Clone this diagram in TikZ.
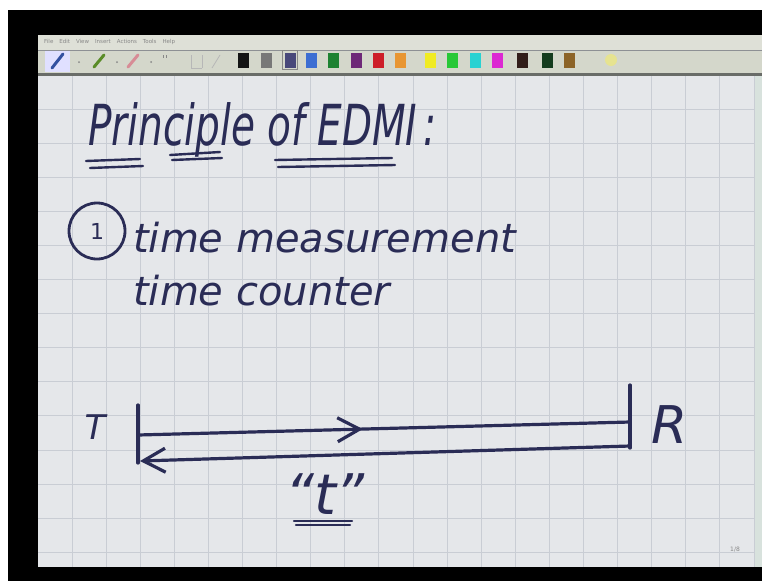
\documentclass[tikz,border=0pt]{standalone}
\usepackage{fontspec}
\setmainfont{DejaVu Sans}
\usepackage{graphicx}
\usepackage{tikz}
\usetikzlibrary{arrows.meta,positioning,calc,decorations.markings}
\definecolor{inkblue}{RGB}{42,44,86}
\definecolor{paper}{RGB}{229,231,234}
\definecolor{gridgray}{RGB}{201,205,212}
\definecolor{menubar}{RGB}{222,224,215}
\definecolor{toolbar}{RGB}{212,215,203}
\definecolor{barline}{RGB}{105,108,104}
\definecolor{faintgray}{RGB}{135,135,135}
\definecolor{scrollstrip}{RGB}{216,226,221}
\definecolor{swblack}{RGB}{20,20,20}
\definecolor{swgray}{RGB}{120,120,120}
\definecolor{swslate}{RGB}{72,72,122}
\definecolor{swblue}{RGB}{60,110,210}
\definecolor{swgreen}{RGB}{30,130,50}
\definecolor{swpurple}{RGB}{110,40,120}
\definecolor{swred}{RGB}{205,30,40}
\definecolor{sworange}{RGB}{232,150,50}
\definecolor{swyellow}{RGB}{240,235,35}
\definecolor{swlime}{RGB}{40,200,55}
\definecolor{swcyan}{RGB}{40,210,210}
\definecolor{swmagenta}{RGB}{220,40,210}
\definecolor{swdkbrown}{RGB}{50,30,25}
\definecolor{swdkgreen}{RGB}{20,60,30}
\definecolor{swbrown}{RGB}{140,100,40}
\definecolor{penblue}{RGB}{50,80,160}
\definecolor{pengreen}{RGB}{90,140,40}
\definecolor{penpink}{RGB}{215,140,150}
\tikzset{
  ink/.style={draw=inkblue, line width=3.2pt, line cap=round, line join=round},
  thinink/.style={draw=inkblue, line width=2.4pt, line cap=round},
  hand/.style={text=inkblue, inner sep=0pt, font=\itshape},
  swatch/.style={minimum width=11pt, minimum height=15pt, inner sep=0pt},
  gridline/.style={draw=gridgray, line width=0.9pt},
  backbarb/.style={-{Straight Barb[length=22pt,width=24pt]}},
  midbarb/.style={postaction={decorate}, decoration={markings,
      mark=at position 0.457 with {\arrow{Straight Barb[length=22pt,width=24pt]}}}}
}

\begin{document}
\begin{tikzpicture}[x=1pt,y=-1pt]
  \useasboundingbox (0,0) rectangle (762,581);
  % screen frame and bars
  \fill[white] (0,0) rectangle (762,581);
  \fill[black] (8,10) rectangle (762,581);
  \fill[menubar] (38,35) rectangle (762,50);
  \fill[toolbar] (38,50) rectangle (762,73);
  \draw[gridgray!70!black, line width=0.6pt] (38,50) -- (762,50);
  \fill[barline] (38,73) rectangle (762,76);
  \fill[paper] (38,76) rectangle (762,567);
  \fill[scrollstrip] (754,76) rectangle (762,567);

  % grid
  \foreach \k in {0,...,20}
    \draw[gridline] ({72+34.1*\k},76) -- ({72+34.1*\k},567);
  \foreach \k in {0,...,13}
    \draw[gridline] (38,{109+34.1*\k}) -- (754,{109+34.1*\k});

  % menu and tools
  \node[anchor=west, inner sep=0pt, text=faintgray, font=\fontsize{5.5}{6}\selectfont] (menu) at (44,42)
    {File\hspace{6pt}Edit\hspace{6pt}View\hspace{6pt}Insert\hspace{6pt}Actions\hspace{6pt}Tools\hspace{6pt}Help};
  \fill[blue!12] (45,51) rectangle (70,72);
  \draw[penblue, line width=3pt, line cap=round] (52,68) -- (63,54);
  \draw[pengreen, line width=3pt, line cap=round] (94,67) -- (104,55);
  \draw[penpink, line width=3pt, line cap=round] (128,67) -- (138,55);
  \foreach \x in {79,117,151}
    \fill[faintgray] (\x,62) circle (1pt);
  \draw[faintgray, line width=0.6pt] (163,55) -- (163,58) (166,55) -- (166,58);
  \draw[faintgray!60, line width=0.8pt] (191,55) -- (191,68) (202,55) -- (202,68) (191,68) -- (202,68);
  \draw[faintgray!60, line width=0.8pt] (212,68) -- (220,55);
  \foreach \x/\c in {243/swblack,266/swgray,290/swslate,311/swblue,333/swgreen,356/swpurple,
      378/swred,400/sworange,430/swyellow,452/swlime,475/swcyan,497/swmagenta,
      522/swdkbrown,547/swdkgreen,569/swbrown}
    \node[swatch, fill=\c] (sw-\c) at (\x,60) {};
  \draw[faintgray, line width=0.8pt] ($(sw-swslate.south west)+(-2,2)$) rectangle ($(sw-swslate.north east)+(2,-2)$);
  \fill[yellow!35!toolbar] (611,60) circle (6pt);

  % title
  \node[hand, anchor=base west, font=\itshape\fontsize{39}{41}\selectfont] (title) at (88,145)
    {\scalebox{1}[1.45]{Principle of EDMI\,:}};
  \draw[thinink] (86,161) -- (140,159) (90,168) -- (143,166);
  \draw[thinink] (170,155) -- (220,152) (172,160) -- (222,158);
  \draw[thinink] (275,160) -- (392,158) (278,167) -- (395,165);

  % point one
  \node[circle, draw=inkblue, line width=2.8pt, minimum size=56pt, inner sep=0pt,
        text=inkblue, font=\fontsize{22}{24}\selectfont] (one) at (97,231) {1};
  \node[hand, anchor=base west, font=\itshape\fontsize{40}{42}\selectfont] (timemeas) at (133,252) {time measurement};
  \node[hand, anchor=base west, font=\itshape\fontsize{40}{42}\selectfont] (timecount) at (133,305) {time counter};

  % transmitter to reflector
  \coordinate (tx top) at (138,405);
  \coordinate (tx bot) at (138,463);
  \coordinate (rx top) at (630,385);
  \coordinate (rx bot) at (630,448);
  \draw[ink] (tx top) -- (tx bot);
  \draw[ink] (rx top) -- (rx bot);
  \coordinate (go start) at (138,435);
  \coordinate (go end) at (630,422);
  \draw[ink, midbarb] (go start) -- (go end);
  \coordinate (back start) at (630,446);
  \coordinate (back end) at (140,461);
  \draw[ink, backbarb] (back start) -- (back end);
  \node[hand, font=\itshape\fontsize{34}{36}\selectfont] (T) at (95,427) {T};
  \node[hand, font=\itshape\fontsize{52}{54}\selectfont] (R) at (670,425) {R};

  % travel time
  \node[hand, anchor=base, font=\itshape\fontsize{56}{58}\selectfont] (tq) at (325,514) {“t”};
  \draw[thinink] ($(tq.base)+(-31,7)$) -- ($(tq.base)+(27,7)$)
                 ($(tq.base)+(-29,11)$) -- ($(tq.base)+(25,11)$);

  \node[inner sep=0pt, text=faintgray, font=\fontsize{6}{7}\selectfont] (page) at (735,550) {1/8};
\end{tikzpicture}
\end{document}
